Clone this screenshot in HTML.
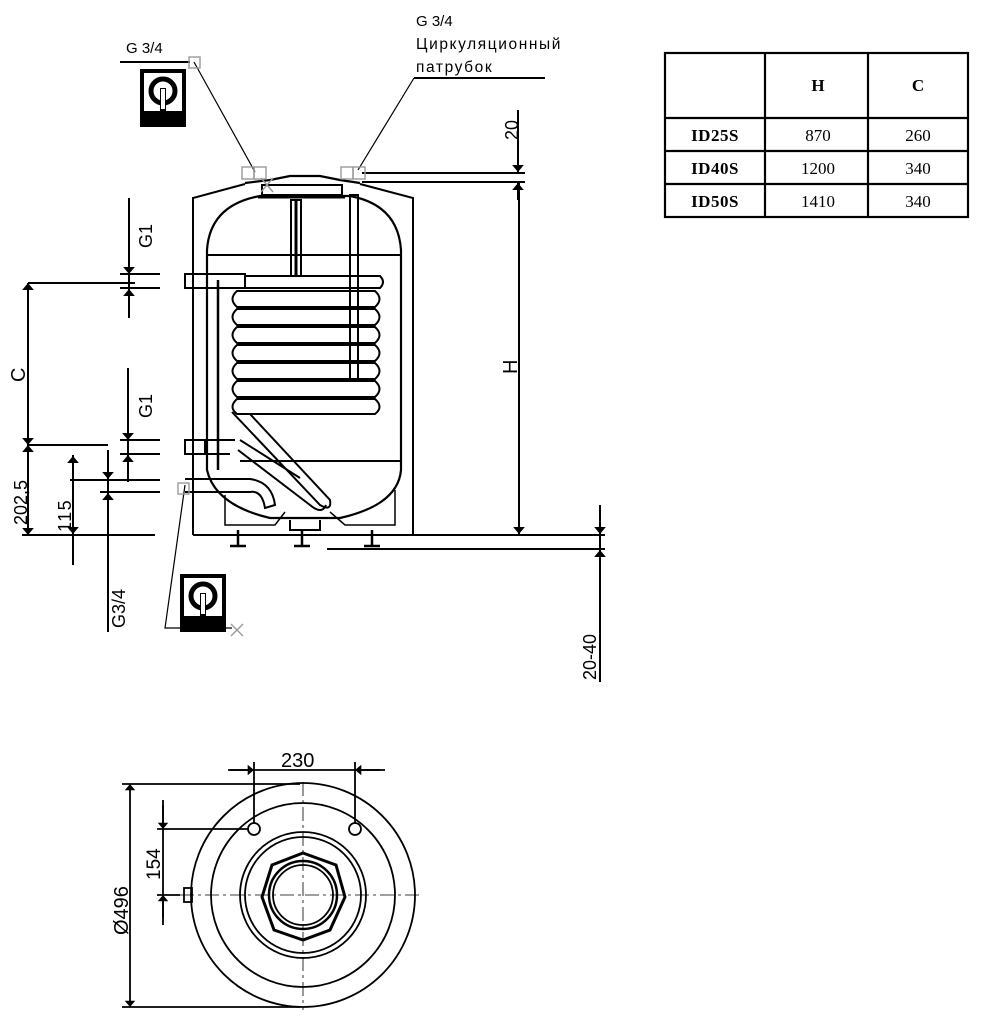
<!DOCTYPE html>
<html><head><meta charset="utf-8"><style>
html,body{margin:0;padding:0;background:#fff;}
svg{display:block;}
text{font-family:"Liberation Sans","DejaVu Sans",sans-serif;fill:#000;}
.s{font-family:"Liberation Serif",serif;}
</style></head><body>
<svg width="988" height="1020" viewBox="0 0 988 1020" xmlns="http://www.w3.org/2000/svg">
<defs>
<marker id="a" viewBox="0 0 6 10" refX="6" refY="5" markerWidth="3.5" markerHeight="6" orient="auto-start-reverse"><path d="M0,0L6,5L0,10z" fill="#000"/></marker>
</defs>
<g stroke="#000" fill="none" stroke-width="2">
<!-- table -->
<rect x="665" y="53" width="303" height="164" stroke-width="2.2"/>
<line x1="665" y1="118" x2="968" y2="118" stroke-width="2.2"/>
<line x1="665" y1="151" x2="968" y2="151" stroke-width="2.2"/>
<line x1="665" y1="184" x2="968" y2="184" stroke-width="2.2"/>
<line x1="765" y1="53" x2="765" y2="217" stroke-width="2.2"/>
<line x1="868" y1="53" x2="868" y2="217" stroke-width="2.2"/>

<!-- casing -->
<path d="M193,535 L193,198 L245,184"/>
<path d="M360,184 L413,198 L413,535"/>
<line x1="193" y1="535" x2="413" y2="535"/>
<!-- top cover -->
<path d="M245,183 L270,180 L290,176 L320,176 L340,180 L360,183" stroke-width="2.2"/>
<rect x="262" y="185" width="80" height="10" stroke-width="2"/>
<line x1="258" y1="197" x2="345" y2="197" stroke-width="3"/>
<!-- inner tank -->
<path d="M207,470 L207,250 Q210,205 260,196 L350,196 Q398,205 401,250 L401,470 Q398,505 340,518 L270,518 Q215,505 207,470 Z" stroke-width="2.2"/>
<line x1="208" y1="255" x2="400" y2="255"/>
<line x1="240" y1="461" x2="400" y2="461"/>
<line x1="218" y1="280" x2="218" y2="470" stroke-width="2.5"/>
<!-- anode/tubes -->
<rect x="291" y="200" width="10" height="76"/>
<line x1="296" y1="200" x2="296" y2="276" stroke-width="3"/>
<rect x="350" y="195" width="8" height="186"/>
<!-- coil -->
<g stroke-width="2">
<path d="M237,291 L375,291 Q384,299 375,307 L237,307 Q228,299 237,291Z"/>
<path d="M237,309 L375,309 Q384,317 375,325 L237,325 Q228,317 237,309Z"/>
<path d="M237,327 L375,327 Q384,335 375,343 L237,343 Q228,335 237,327Z"/>
<path d="M237,345 L375,345 Q384,353 375,361 L237,361 Q228,353 237,345Z"/>
<path d="M237,363 L375,363 Q384,371 375,379 L237,379 Q228,371 237,363Z"/>
<path d="M237,381 L375,381 Q384,389 375,397 L237,397 Q228,389 237,381Z"/>
<path d="M237,399 L375,399 Q384,407 375,414 L237,414 Q228,407 237,399Z"/>
<path d="M232,412 L320,505 Q332,512 330,500 L250,414"/>
<path d="M238,450 L310,505 Q322,515 326,505 M240,440 L300,478"/>
</g>
<!-- nozzles -->
<rect x="185" y="274" width="60" height="14"/>
<path d="M245,276 L380,276 Q386,282 380,288 L245,288"/>
<rect x="185" y="440" width="20" height="14"/>
<path d="M205,440 L235,440 M205,454 L230,454"/>
<path d="M185,479 L250,479 Q272,482 275,505 L265,508 Q262,490 250,492 L185,492"/>
<!-- feet area -->
<path d="M225,495 L225,525 L275,525 L285,512 M330,512 L345,525 L395,525 L395,490" stroke-width="1.5"/>
<path d="M290,520 L290,530 L320,530 L320,520"/>
<g stroke-width="2.5">
<line x1="238" y1="530" x2="238" y2="545"/><line x1="230" y1="546" x2="246" y2="546"/>
<line x1="302" y1="530" x2="302" y2="545"/><line x1="294" y1="546" x2="310" y2="546"/>
<line x1="372" y1="530" x2="372" y2="545"/><line x1="364" y1="546" x2="380" y2="546"/>
</g>
<!-- base lines -->
<line x1="22" y1="535" x2="155" y2="535"/>
<line x1="400" y1="535" x2="605" y2="535"/>
<line x1="327" y1="549" x2="605" y2="549"/>

<!-- dims left -->
<line x1="28" y1="283" x2="135" y2="283"/>
<line x1="28" y1="445" x2="108" y2="445"/>
<line x1="28" y1="283" x2="28" y2="445" marker-start="url(#a)" marker-end="url(#a)"/>
<line x1="28" y1="445" x2="28" y2="535" marker-start="url(#a)" marker-end="url(#a)"/>
<line x1="73" y1="455" x2="73" y2="565"/>
<line x1="73" y1="480" x2="73" y2="456" marker-end="url(#a)"/>
<line x1="73" y1="510" x2="73" y2="534" marker-end="url(#a)"/>
<line x1="70" y1="480" x2="160" y2="480"/>
<line x1="100" y1="492" x2="160" y2="492"/>
<line x1="108" y1="450" x2="108" y2="632"/>
<line x1="108" y1="460" x2="108" y2="479" marker-end="url(#a)"/>
<line x1="108" y1="510" x2="108" y2="493" marker-end="url(#a)"/>
<line x1="129" y1="198" x2="129" y2="318"/>
<line x1="129" y1="255" x2="129" y2="274" marker-end="url(#a)"/>
<line x1="129" y1="310" x2="129" y2="289" marker-end="url(#a)"/>
<line x1="120" y1="274" x2="160" y2="274"/><line x1="120" y1="288" x2="160" y2="288"/>
<line x1="128" y1="368" x2="128" y2="482"/>
<line x1="128" y1="420" x2="128" y2="440" marker-end="url(#a)"/>
<line x1="128" y1="470" x2="128" y2="455" marker-end="url(#a)"/>
<line x1="120" y1="440" x2="160" y2="440"/><line x1="120" y1="454" x2="160" y2="454"/>

<!-- dims right -->
<line x1="362" y1="173" x2="525" y2="173"/>
<line x1="362" y1="182" x2="525" y2="182"/>
<line x1="518" y1="110" x2="518" y2="172" marker-end="url(#a)"/>
<line x1="518" y1="200" x2="518" y2="183" marker-end="url(#a)"/>
<line x1="519" y1="183" x2="519" y2="534" marker-end="url(#a)"/>
<line x1="600" y1="505" x2="600" y2="534" marker-end="url(#a)"/>
<line x1="600" y1="580" x2="600" y2="550" marker-end="url(#a)"/>
<line x1="600" y1="535" x2="600" y2="682"/>

<!-- leaders -->
<line x1="120" y1="62" x2="190" y2="62"/>
<line x1="194" y1="62" x2="255" y2="172" stroke-width="1.2"/>
<line x1="414" y1="78" x2="545" y2="78"/>
<line x1="414" y1="78" x2="358" y2="170" stroke-width="1.2"/>
<path d="M185,485 L165,628 L232,628" stroke-width="1.2"/>
</g>
<g stroke="#999" fill="none" stroke-width="1.4">
<rect x="189" y="57" width="11" height="11"/>
<rect x="242" y="167" width="12" height="12"/><rect x="254" y="167" width="12" height="12"/>
<rect x="341" y="167" width="12" height="12"/><rect x="353" y="167" width="12" height="12"/>
<rect x="178" y="483" width="11" height="11"/>
<path d="M261,178 L273,192 M273,178 L261,192"/>
<path d="M231,624 L243,636 M243,624 L231,636"/>
</g>
<!-- icons -->
<g>
<rect x="140" y="69" width="46" height="58" fill="#000"/>
<rect x="144" y="73" width="38" height="38" fill="#fff"/>
<circle cx="163" cy="91" r="12" fill="none" stroke="#000" stroke-width="5"/>
<rect x="160" y="88" width="6" height="23" fill="#000"/>
<rect x="161" y="89" width="4" height="20" fill="#fff"/>
<rect x="180" y="574" width="46" height="58" fill="#000"/>
<rect x="184" y="578" width="38" height="38" fill="#fff"/>
<circle cx="203" cy="596" r="12" fill="none" stroke="#000" stroke-width="5"/>
<rect x="200" y="593" width="6" height="23" fill="#000"/>
<rect x="201" y="594" width="4" height="20" fill="#fff"/>
</g>

<!-- bottom view -->
<g stroke="#000" fill="none" stroke-width="1.8">
<circle cx="303" cy="895" r="112"/>
<circle cx="303" cy="895" r="92"/>
<circle cx="303" cy="895" r="63"/>
<circle cx="303" cy="895" r="58"/>
<polygon points="303,853 336,865 345,897 330,930 303,940 274,930 262,897 272,865" stroke-width="3"/>
<circle cx="303" cy="895" r="34" stroke-width="2.5"/>
<circle cx="303" cy="895" r="30"/>
<circle cx="254" cy="829" r="6"/><circle cx="355" cy="829" r="6"/>
<rect x="184" y="888" width="8" height="14"/>
<g stroke-width="0.8" stroke-dasharray="14,4,3,4">
<line x1="180" y1="895" x2="420" y2="895"/>
<line x1="303" y1="782" x2="303" y2="1010"/>
</g>
<line x1="228" y1="770" x2="385" y2="770"/>
<line x1="230" y1="770" x2="254" y2="770" marker-end="url(#a)"/>
<line x1="380" y1="770" x2="355" y2="770" marker-end="url(#a)"/>
<line x1="254" y1="762" x2="254" y2="823"/>
<line x1="355" y1="762" x2="355" y2="823"/>
<line x1="122" y1="784" x2="300" y2="784"/>
<line x1="122" y1="1007" x2="300" y2="1007"/>
<line x1="130" y1="784" x2="130" y2="1007" marker-start="url(#a)" marker-end="url(#a)"/>
<line x1="157" y1="829" x2="248" y2="829"/>
<line x1="157" y1="895" x2="180" y2="895"/>
<line x1="163" y1="800" x2="163" y2="925"/>
<line x1="163" y1="805" x2="163" y2="829" marker-end="url(#a)"/>
<line x1="163" y1="918" x2="163" y2="895" marker-end="url(#a)"/>
</g>

<!-- text -->
<text x="126" y="53" font-size="15">G 3/4</text>
<text x="416" y="26" font-size="15">G 3/4</text>
<text x="416" y="49" font-size="15.5" letter-spacing="1.6">Циркуляционный</text>
<text x="416" y="72" font-size="15.5" letter-spacing="1.6">патрубок</text>
<text transform="translate(518,140) rotate(-90)" font-size="18">20</text>
<text transform="translate(152,248) rotate(-90)" font-size="18">G1</text>
<text transform="translate(152,418) rotate(-90)" font-size="18">G1</text>
<text transform="translate(25,382) rotate(-90)" font-size="20">C</text>
<text transform="translate(27,525) rotate(-90)" font-size="18">202,5</text>
<text transform="translate(71,532) rotate(-90)" font-size="18" letter-spacing="1.5">115</text>
<text transform="translate(125,628) rotate(-90)" font-size="18">G3/4</text>
<text transform="translate(517,374) rotate(-90)" font-size="20">H</text>
<text transform="translate(596,680) rotate(-90)" font-size="18">20-40</text>
<text x="281" y="767" font-size="20">230</text>
<text transform="translate(160,880) rotate(-90)" font-size="19">154</text>
<text transform="translate(128,935) rotate(-90)" font-size="20">Ø496</text>
<g font-size="17" text-anchor="middle">
<text x="818" y="91" font-weight="bold" class="s">H</text>
<text x="918" y="91" font-weight="bold" class="s">C</text>
<text x="715" y="141" font-weight="bold" class="s" letter-spacing="0.5">ID25S</text>
<text x="715" y="174" font-weight="bold" class="s" letter-spacing="0.5">ID40S</text>
<text x="715" y="207" font-weight="bold" class="s" letter-spacing="0.5">ID50S</text>
<text x="818" y="141" class="s">870</text>
<text x="818" y="174" class="s">1200</text>
<text x="818" y="207" class="s">1410</text>
<text x="918" y="141" class="s">260</text>
<text x="918" y="174" class="s">340</text>
<text x="918" y="207" class="s">340</text>
</g>
</svg>
</body></html>
